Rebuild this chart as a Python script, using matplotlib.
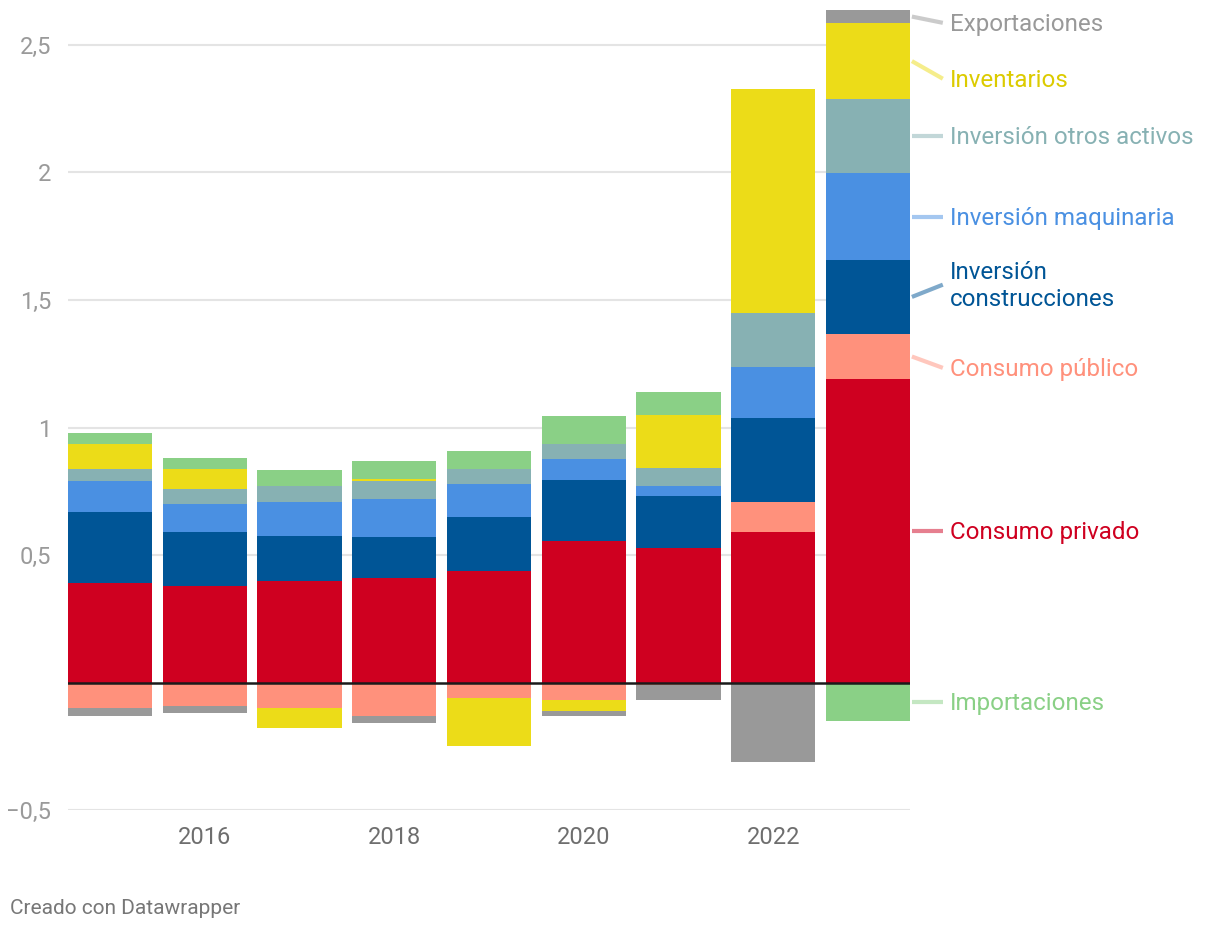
import numpy as np
import matplotlib
matplotlib.use("Agg")
import matplotlib.pyplot as plt
from matplotlib.transforms import offset_copy

plt.rcParams['font.family'] = ['Roboto', 'DejaVu Sans']

years = [2015, 2016, 2017, 2018, 2019, 2020, 2021, 2022, 2023]

# contributions, in stacking order
consumo_privado = [0.39, 0.38, 0.40, 0.41, 0.44, 0.555, 0.53, 0.59, 1.19]
consumo_publico = [-0.10, -0.09, -0.10, -0.13, -0.06, -0.067, -0.008, 0.117, 0.177]
inv_construcciones = [0.28, 0.21, 0.175, 0.16, 0.21, 0.24, 0.20, 0.33, 0.29]
inv_maquinaria = [0.12, 0.11, 0.135, 0.15, 0.13, 0.08, 0.043, 0.20, 0.34]
inv_otros = [0.047, 0.059, 0.063, 0.071, 0.059, 0.059, 0.067, 0.212, 0.29]
inventarios = [0.10, 0.079, -0.078, 0.008, -0.188, -0.043, 0.211, 0.878, 0.298]
exportaciones = [-0.031, -0.027, 0.0, -0.028, 0.0, -0.019, -0.059, -0.31, 0.051]
importaciones = [0.04, 0.043, 0.059, 0.071, 0.07, 0.11, 0.09, 0.0, -0.149]

series = [consumo_privado, consumo_publico, inv_construcciones, inv_maquinaria,
          inv_otros, inventarios, exportaciones, importaciones]
names = ["Consumo privado", "Consumo público", "Inversión\nconstrucciones",
         "Inversión maquinaria", "Inversión otros activos", "Inventarios",
         "Exportaciones", "Importaciones"]
colors = ['#cf0020', '#ff917c', '#005596', '#4a90e2', '#87b1b3', '#ecdc18',
          '#999999', '#8ad086']
text_colors = ['#cf0020', '#ff917c', '#005596', '#4a90e2', '#87b1b3', '#dccb00',
               '#999999', '#8ad086']
# where the right-hand labels sit (data units), None = segment middle
label_y = [None, 1.234, 1.56, None, None, 2.367, 2.586, None]

fig = plt.figure(figsize=(12.2, 9.32), dpi=100)
ax = fig.add_axes([68 / 1220, 121.6 / 932, 842 / 1220, 803.9 / 932])

x = np.array(years, dtype=float)
width = 0.887
pos_base = np.zeros(len(years))
neg_base = np.zeros(len(years))
mids = []
for vals, col in zip(series, colors):
    v = np.array(vals)
    bottom = np.where(v >= 0, pos_base, neg_base)
    ax.bar(x, v, width=width, bottom=bottom, color=col, linewidth=0, zorder=2)
    mids.append(bottom[-1] + v[-1] / 2)
    pos_base += np.where(v >= 0, v, 0)
    neg_base += np.where(v < 0, v, 0)

ax.set_xlim(years[0] - 0.4435, years[-1] + 0.4435)
ax.set_ylim(-0.5, 2.65)

yticks = [-0.5, 0.5, 1, 1.5, 2, 2.5]
ax.set_yticks(yticks)
ax.set_yticklabels([("%g" % t).replace('.', ',').replace('-', '\u2212') for t in yticks])
ax.set_xticks([2016, 2018, 2020, 2022])
ax.set_xticklabels(['2016', '2018', '2020', '2022'])
ax.tick_params(axis='y', length=0, pad=12, labelsize=17, labelcolor='#9a9a9a')
ax.tick_params(axis='x', length=0, pad=11, labelsize=17, labelcolor='#6e6e6e')
for t in yticks:
    ax.axhline(t, color='#e4e4e4', linewidth=1.5, zorder=0)
ax.axhline(0, color='#1a1a1a', linewidth=1.8, zorder=3)
for s in ax.spines.values():
    s.set_visible(False)

# labels on the right
x0 = years[-1] + width / 2
x1 = years[-1] + 0.79
xt = years[-1] + 0.865
txt_tr = offset_copy(ax.transData, fig=fig, y=-1.5, units='dots')
for name, tc, col, m, ly in zip(names, text_colors, colors, mids, label_y):
    yl = m if ly is None else ly
    ax.plot([x0 + 0.02, x1], [m, yl], color=col, alpha=0.5, linewidth=3,
            clip_on=False, solid_capstyle='butt', zorder=1)
    ax.text(xt, yl, name, color=tc, fontsize=17.4, va='center', ha='left',
            linespacing=1.2, clip_on=False, transform=txt_tr)

fig.text(10 / 1220, 1 - 908 / 932, "Creado con Datawrapper", color='#777777',
         fontsize=15, va='center', ha='left')

fig.savefig('out.png', dpi=100)
